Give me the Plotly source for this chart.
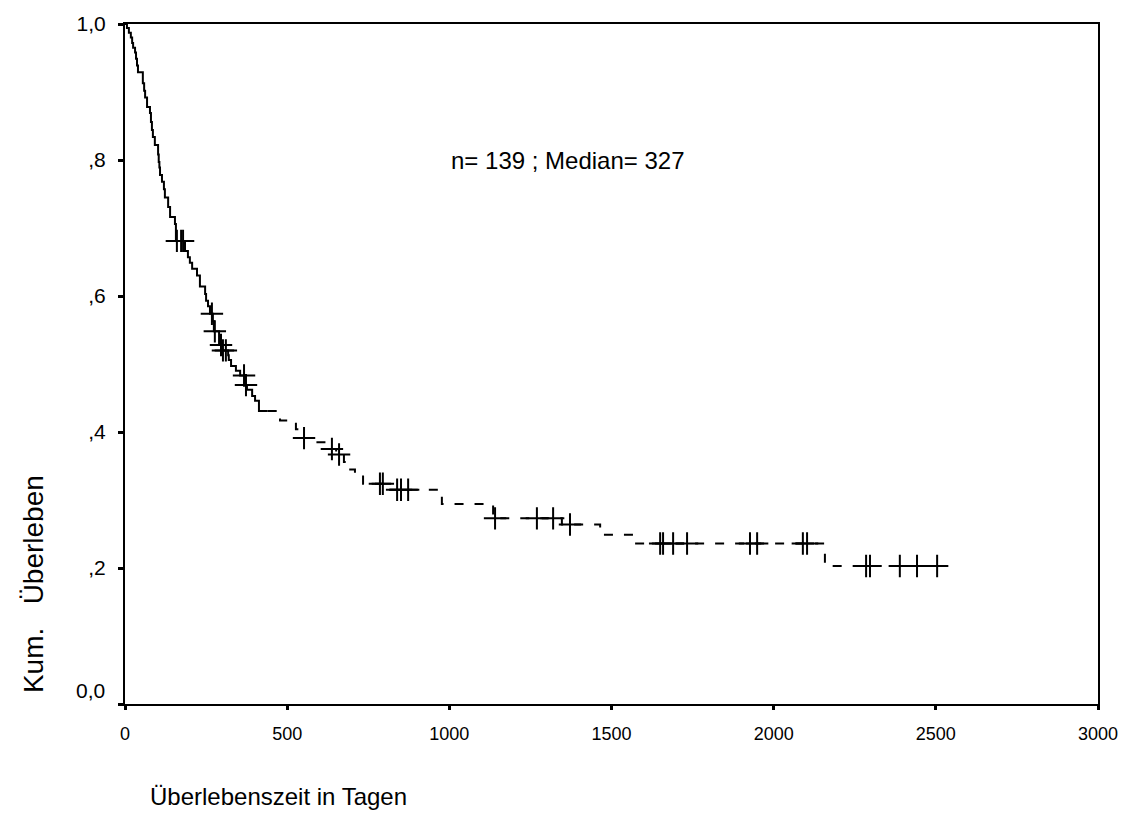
import plotly.graph_objects as go

# Step events: time (days) where survival drops, and survival after the drop
event_days = [6, 12, 18, 22, 25, 31, 34, 37, 40, 55, 59, 62, 68, 77, 80, 83, 86, 92,
              102, 104, 106, 108, 114, 120, 123, 133, 139, 154, 157, 185, 194, 200,
              207, 222, 231, 247, 250, 256, 262, 271, 274, 290, 299, 318, 320, 327,
              342, 355, 370, 376, 392, 401, 413, 478, 527, 540, 570, 623, 651, 675,
              688, 709, 734, 817, 977, 1135, 1347, 1465, 1572, 2158]
event_surv = [0.994, 0.987, 0.980, 0.972, 0.965, 0.958, 0.949, 0.939, 0.929, 0.913,
              0.902, 0.892, 0.878, 0.869, 0.856, 0.844, 0.834, 0.822, 0.808, 0.797,
              0.789, 0.778, 0.768, 0.757, 0.745, 0.731, 0.716, 0.706, 0.681, 0.666,
              0.657, 0.649, 0.640, 0.630, 0.614, 0.603, 0.593, 0.585, 0.574, 0.563,
              0.548, 0.528, 0.520, 0.513, 0.506, 0.497, 0.490, 0.483, 0.469, 0.462,
              0.453, 0.446, 0.431, 0.417, 0.404, 0.391, 0.385, 0.375, 0.367, 0.356,
              0.345, 0.337, 0.324, 0.315, 0.294, 0.273, 0.264, 0.249, 0.236, 0.203]

# Censored observations
censor_days = [160, 173, 179, 268, 277, 296, 302, 311, 367, 373, 552, 638, 660,
               786, 795, 839, 851, 873, 1141, 1270, 1320, 1372, 1650, 1659, 1690,
               1733, 1927, 1949, 2090, 2103, 2285, 2297, 2389, 2442, 2504]

last_day = 2504
split_day = 440  # solid line before, dashed line after

x_ticks = [0, 500, 1000, 1500, 2000, 2500, 3000]
x_ticktext = ["0", "500", "1000", "1500", "2000", "2500", "3000"]
y_ticks = [0.0, 0.2, 0.4, 0.6, 0.8, 1.0]
y_ticktext = ["", ",2", ",4", ",6", ",8", "1,0"]
y_zero_label = "0,0"


def surv_at(t):
    s = 1.0
    for d, v in zip(event_days, event_surv):
        if d <= t:
            s = v
    return s


xs = [0] + event_days + [last_day]
ys = [1.0] + event_surv + [event_surv[-1]]

solid_x = [x for x in xs if x < split_day] + [split_day]
solid_y = [y for x, y in zip(xs, ys) if x < split_day] + [surv_at(split_day)]
dash_x = [split_day] + [x for x in xs if x > split_day]
dash_y = [surv_at(split_day)] + [y for x, y in zip(xs, ys) if x > split_day]

censor_surv = [surv_at(t) for t in censor_days]

font_family = "Liberation Sans, Arial, sans-serif"

fig = go.Figure()
fig.add_trace(go.Scatter(x=solid_x, y=solid_y, mode="lines", line_shape="hv",
                         line=dict(color="black", width=2), showlegend=False,
                         hoverinfo="skip"))
fig.add_trace(go.Scatter(x=dash_x, y=dash_y, mode="lines", line_shape="hv",
                         line=dict(color="black", width=2, dash="9px,11px"),
                         showlegend=False, hoverinfo="skip"))
fig.add_trace(go.Scatter(x=censor_days, y=censor_surv, mode="markers",
                         marker=dict(symbol="cross-thin-open", size=16, color="black",
                                     line=dict(color="black", width=2)),
                         showlegend=False))

plot_w = 1135 - 125 - 37
plot_h = 825 - 18 - 121

fig.update_layout(
    width=1135, height=825,
    margin=dict(l=125, r=37, t=18, b=121),
    paper_bgcolor="white", plot_bgcolor="white",
    font=dict(family=font_family, color="black", size=17),
    xaxis=dict(range=[0, 3000], tickvals=x_ticks, ticktext=x_ticktext,
               showgrid=False, zeroline=False, showline=True, linecolor="black",
               linewidth=2, mirror=True, ticks="outside", ticklen=4, tickwidth=3,
               tickcolor="black", ticklabelstandoff=8,
               tickfont=dict(size=18, family=font_family)),
    yaxis=dict(range=[0, 1], tickvals=y_ticks, ticktext=y_ticktext,
               showgrid=False, zeroline=False, showline=True, linecolor="black",
               linewidth=2, mirror=True, ticks="outside", ticklen=5, tickwidth=3,
               tickcolor="black", ticklabelstandoff=8,
               tickfont=dict(size=21, family=font_family)),
    annotations=[
        dict(text="n= 139 ; Median= 327", x=1000, y=0.8, xref="x", yref="y",
             xanchor="left", yanchor="middle", showarrow=False,
             font=dict(size=24, family=font_family)),
        dict(text="Überlebenszeit in Tagen", x=(148 - 125) / plot_w,
             y=(704 - 797) / plot_h, xref="paper", yref="paper", showarrow=False,
             xanchor="left", yanchor="middle",
             font=dict(size=24, family=font_family)),
        dict(text="Kum.&nbsp;&nbsp; Überleben", x=(33 - 125) / plot_w,
             y=(704 - 583) / plot_h, xref="paper", yref="paper", showarrow=False,
             textangle=-90, xanchor="center", yanchor="middle",
             font=dict(size=28, family=font_family)),
        dict(text=y_zero_label, x=(107 - 125) / plot_w, y=(704 - 690) / plot_h,
             xref="paper", yref="paper", showarrow=False, xanchor="right",
             yanchor="middle", font=dict(size=21, family=font_family)),
    ],
)

fig.write_html("out.html")
